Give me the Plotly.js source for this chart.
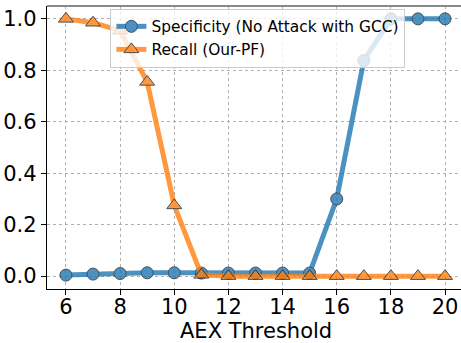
<!DOCTYPE html>
<html><head><meta charset="utf-8">
<script src="https://cdn.plot.ly/plotly-3.0.1.min.js"></script>
<style>html,body{margin:0;padding:0;overflow:hidden;background:#fff}</style>
</head><body><div id="chart"></div>
<script>
const thresholds = [6,7,8,9,10,11,12,13,14,15,16,17,18,19,20];
const specificity = [0.004,0.008,0.010,0.013,0.013,0.012,0.012,0.012,0.012,0.012,0.30,0.838,1.0,1.0,1.0];
const recall = [1.0,0.985,0.954,0.755,0.275,0.005,0,0,0,0,0,0,0,0,0];
const tickVals = [6,8,10,12,14,16,18,20];
const yTicks = [0,0.2,0.4,0.6,0.8,1.0];

const traces = [
  {x: thresholds, y: specificity, name: 'Specificity (No Attack with GCC)', mode: 'lines+markers',
   opacity: 0.8,
   line: {color: '#1f77b4', width: 5},
   marker: {symbol: 'circle', size: 12, color: '#1f77b4', line: {color: '#222', width: 1}}},
  {x: thresholds, y: recall, name: 'Recall (Our-PF)', mode: 'lines+markers',
   opacity: 0.8,
   line: {color: '#ff7f0e', width: 5},
   marker: {symbol: 'triangle-up', size: 13, color: '#ff7f0e', line: {color: '#222', width: 1}}}
];

const plotH = 343 - 6 - 54;
const layout = {
  width: 464, height: 343,
  margin: {l: 47, r: 0, t: 6, b: 54},
  paper_bgcolor: '#fff', plot_bgcolor: '#fff',
  font: {family: 'DejaVu Sans', color: '#000'},
  showlegend: true,
  legend: {x: 0.152, y: 0.99, xanchor: 'left', yanchor: 'top',
    bgcolor: 'rgba(255,255,255,0.8)', bordercolor: '#ccc', borderwidth: 1,
    font: {size: 15.4, family: 'DejaVu Sans'}, tracegroupgap: 0},
  xaxis: {range: [5.3, 20.7], tickvals: tickVals, ticktext: tickVals.map(String),
    tickfont: {size: 21}, ticks: 'outside', ticklen: 5, tickcolor: '#000',
    ticklabelstandoff: -6,
    showline: true, linecolor: '#000', linewidth: 1.2, mirror: false,
    showgrid: true, gridcolor: '#b0b0b0', griddash: 'dot', gridwidth: 1, zeroline: false},
  yaxis: {range: [-0.05, 1.05], tickvals: yTicks, ticktext: yTicks.map(v => v.toFixed(1)),
    tickfont: {size: 21}, ticks: 'outside', ticklen: 5, tickcolor: '#000',
    showline: true, linecolor: '#000', linewidth: 1.2, mirror: false,
    showgrid: true, gridcolor: '#b0b0b0', griddash: 'dot', gridwidth: 1, zeroline: false},
  annotations: [{text: 'AEX Threshold', xref: 'paper', yref: 'paper', x: 0.5,
    y: -(317 - 289) / plotH,
    xanchor: 'center', yanchor: 'top', showarrow: false, font: {size: 21}}],
  shapes: [{type: 'line', xref: 'paper', yref: 'paper', x0: 0, x1: 1, y0: 1, y1: 1,
    line: {color: '#888', width: 2}}]
};
Plotly.newPlot('chart', traces, layout, {displayModeBar: false, staticPlot: true});
</script></body></html>
